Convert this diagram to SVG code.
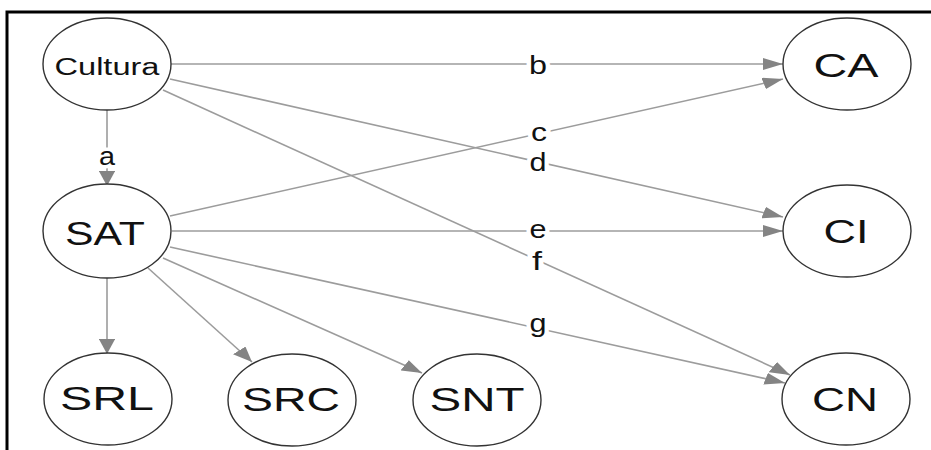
<svg xmlns="http://www.w3.org/2000/svg" width="931" height="450" viewBox="0 0 931 450">
  <style>
    .node ellipse { fill: #ffffff; stroke: #333333; stroke-width: 1.4; }
    .node text { font-family: "Liberation Sans", Arial, sans-serif; font-size: 33px; fill: #111111; text-anchor: middle; }
    .edge { fill: none; stroke: #9c9c9c; stroke-width: 1.6; vector-effect: non-scaling-stroke; marker-end: url(#arrow); }
    .elabel { font-family: "Liberation Sans", Arial, sans-serif; font-size: 25px; fill: #111111; text-anchor: middle; stroke: #ffffff; stroke-width: 7; paint-order: stroke; stroke-linejoin: round; }
    .frame { stroke: #000000; stroke-width: 3; fill: none; }
  </style>
  <defs>
    <marker id="arrow" viewBox="0 0 15 12" refX="15" refY="6" markerWidth="15" markerHeight="12" markerUnits="userSpaceOnUse" orient="auto">
      <path d="M0,0 L15,6 L0,12 z" fill="#848484"/>
    </marker>
  </defs>
  <rect width="931" height="450" fill="#ffffff"/>
  <!-- frame: top and left rules -->
  <path class="frame" d="M7,450 L7,12 L931,12"/>

  <g id="edges">
    <!-- connectors are laid out in a horizontally widened space (x scaled by 1.35) -->
    <g transform="scale(1.35,1)">
      <line class="edge" x1="79.26" y1="110" x2="79.26" y2="186"/>
      <line class="edge" x1="126.67" y1="64" x2="580" y2="64"/>
      <line class="edge" x1="125.93" y1="216" x2="580" y2="79"/>
      <line class="edge" x1="125.93" y1="79" x2="580" y2="217"/>
      <line class="edge" x1="127.41" y1="231" x2="580" y2="231"/>
      <line class="edge" x1="120.74" y1="90" x2="585.19" y2="375"/>
      <line class="edge" x1="125.93" y1="247" x2="581.48" y2="383"/>
      <line class="edge" x1="79.26" y1="278" x2="79.26" y2="354"/>
      <line class="edge" x1="109.63" y1="268" x2="186.67" y2="362"/>
      <line class="edge" x1="120.74" y1="258" x2="312.59" y2="373"/>
    </g>
    <text class="elabel" x="107" y="165" textLength="16" lengthAdjust="spacingAndGlyphs">a</text>
    <text class="elabel" x="538" y="74" textLength="18" lengthAdjust="spacingAndGlyphs">b</text>
    <text class="elabel" x="539" y="141" textLength="16" lengthAdjust="spacingAndGlyphs">c</text>
    <text class="elabel" x="538" y="171" textLength="17" lengthAdjust="spacingAndGlyphs">d</text>
    <text class="elabel" x="538" y="238" textLength="17" lengthAdjust="spacingAndGlyphs">e</text>
    <text class="elabel" x="537" y="270" textLength="10" lengthAdjust="spacingAndGlyphs">f</text>
    <text class="elabel" x="538" y="332" textLength="17" lengthAdjust="spacingAndGlyphs">g</text>
  </g>

  <g id="Cultura" class="node">
    <ellipse cx="107" cy="64" rx="64" ry="46"/>
    <text x="107" y="75" style="font-size:23px" textLength="105" lengthAdjust="spacingAndGlyphs">Cultura</text>
  </g>
  <g id="SAT" class="node">
    <ellipse cx="107" cy="231" rx="64" ry="47"/>
    <text x="105" y="245" textLength="80" lengthAdjust="spacingAndGlyphs">SAT</text>
  </g>
  <g id="SRL" class="node">
    <ellipse cx="108" cy="399" rx="64" ry="46"/>
    <text x="107" y="410" textLength="94" lengthAdjust="spacingAndGlyphs">SRL</text>
  </g>
  <g id="SRC" class="node">
    <ellipse cx="292" cy="400" rx="64" ry="46"/>
    <text x="291" y="411" textLength="98" lengthAdjust="spacingAndGlyphs">SRC</text>
  </g>
  <g id="SNT" class="node">
    <ellipse cx="477" cy="400" rx="64" ry="46"/>
    <text x="477" y="411" textLength="95" lengthAdjust="spacingAndGlyphs">SNT</text>
  </g>
  <g id="CA" class="node">
    <ellipse cx="847" cy="64" rx="64" ry="46"/>
    <text x="846" y="77" textLength="65" lengthAdjust="spacingAndGlyphs">CA</text>
  </g>
  <g id="CI" class="node">
    <ellipse cx="847" cy="231" rx="64" ry="46"/>
    <text x="846" y="243" textLength="45" lengthAdjust="spacingAndGlyphs">CI</text>
  </g>
  <g id="CN" class="node">
    <ellipse cx="846" cy="399" rx="64" ry="46"/>
    <text x="845" y="411" textLength="66" lengthAdjust="spacingAndGlyphs">CN</text>
  </g>
</svg>
